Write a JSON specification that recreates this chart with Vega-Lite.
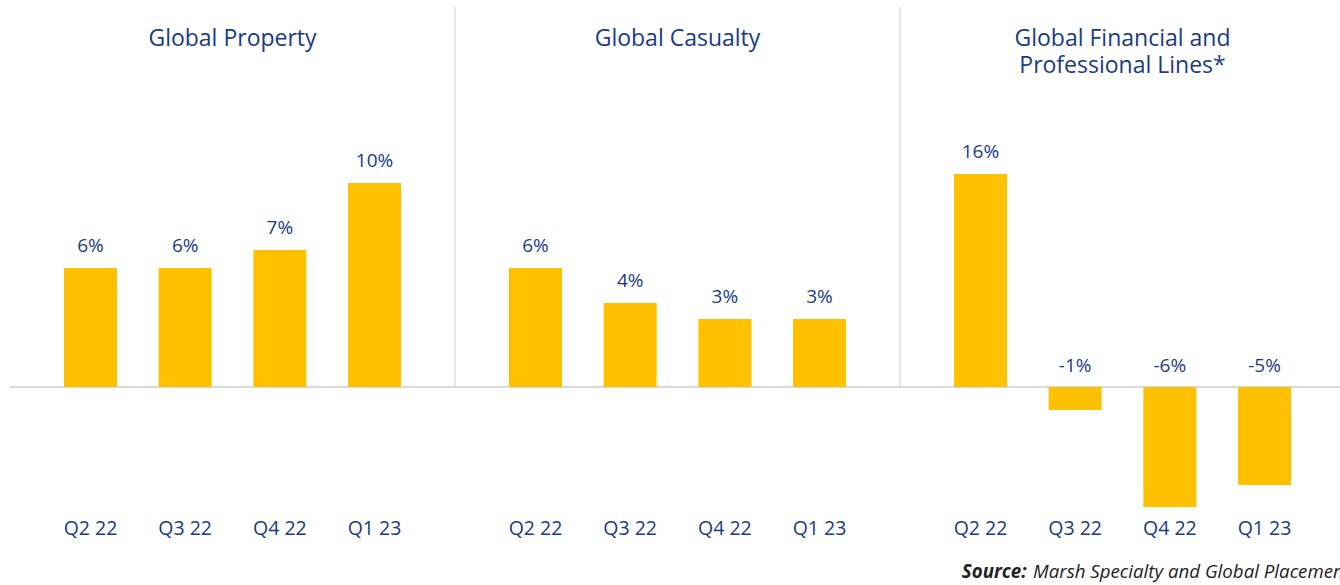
{
  "$schema": "https://vega.github.io/schema/vega-lite/v6.json",
  "autosize": {"type": "none"},
  "width": 1335,
  "height": 540,
  "padding": {"left": 10, "top": 7, "right": -5, "bottom": 38},
  "background": "white",
  "config": {"view": {"stroke": null}, "font": "Open Sans"},
  "data": {"values": [
    {"panel": "Global Property", "quarter": "Q2 22", "value": 5.95, "label": "6%"},
    {"panel": "Global Property", "quarter": "Q3 22", "value": 5.95, "label": "6%"},
    {"panel": "Global Property", "quarter": "Q4 22", "value": 6.85, "label": "7%"},
    {"panel": "Global Property", "quarter": "Q1 23", "value": 10.2, "label": "10%"},
    {"panel": "Global Casualty", "quarter": "Q2 22", "value": 5.95, "label": "6%"},
    {"panel": "Global Casualty", "quarter": "Q3 22", "value": 4.2, "label": "4%"},
    {"panel": "Global Casualty", "quarter": "Q4 22", "value": 3.4, "label": "3%"},
    {"panel": "Global Casualty", "quarter": "Q1 23", "value": 3.4, "label": "3%"},
    {"panel": "Global Financial and\nProfessional Lines*", "quarter": "Q2 22", "value": 10.65, "label": "16%"},
    {"panel": "Global Financial and\nProfessional Lines*", "quarter": "Q3 22", "value": -1.15, "label": "-1%"},
    {"panel": "Global Financial and\nProfessional Lines*", "quarter": "Q4 22", "value": -6.0, "label": "-6%"},
    {"panel": "Global Financial and\nProfessional Lines*", "quarter": "Q1 23", "value": -4.9, "label": "-5%"}
  ]},
  "encoding": {
    "x": {"field": "panel", "type": "nominal", "axis": null,
          "scale": {"domain": ["Global Property", "Global Casualty", "Global Financial and\nProfessional Lines*"], "paddingInner": 0, "paddingOuter": 0}},
    "xOffset": {"field": "quarter", "type": "nominal",
                "scale": {"domain": ["Q2 22", "Q3 22", "Q4 22", "Q1 23"], "paddingInner": 0.44, "paddingOuter": 0.57}}
  },
  "layer": [
    {
      "mark": {"type": "rule", "color": "#d9d9d9", "strokeWidth": 1.2},
      "encoding": {
        "x": null, "xOffset": null,
        "y": {"datum": 0, "type": "quantitative", "scale": {"domain": [-8, 19], "nice": false, "zero": false}, "axis": null}
      }
    },
    {
      "transform": [
        {"filter": "datum.panel != 'Global Property'"},
        {"aggregate": [{"op": "count", "as": "n"}], "groupby": ["panel"]}
      ],
      "mark": {"type": "rule", "color": "#d9d9d9", "strokeWidth": 1.2},
      "encoding": {
        "x": {"field": "panel", "type": "nominal", "bandPosition": 0, "axis": null},
        "xOffset": null,
        "y": {"datum": 19, "type": "quantitative"},
        "y2": {"datum": 0}
      }
    },
    {
      "mark": {"type": "bar", "color": "#FFC000"},
      "encoding": {
        "y": {"field": "value", "type": "quantitative"},
        "y2": {"datum": 0}
      }
    },
    {
      "transform": [{"filter": "datum.value >= 0"}],
      "mark": {"type": "text", "color": "#1b3a85", "fontSize": 19, "baseline": "middle", "dy": -22},
      "encoding": {
        "y": {"field": "value", "type": "quantitative"},
        "text": {"field": "label"}
      }
    },
    {
      "transform": [{"filter": "datum.value < 0"}],
      "mark": {"type": "text", "color": "#1b3a85", "fontSize": 19, "baseline": "middle", "dy": -21},
      "encoding": {
        "y": {"datum": 0, "type": "quantitative"},
        "text": {"field": "label"}
      }
    },
    {
      "mark": {"type": "text", "color": "#1b3a85", "fontSize": 19.5, "baseline": "middle"},
      "encoding": {
        "y": {"datum": -7.1, "type": "quantitative"},
        "text": {"field": "quarter"}
      }
    },
    {
      "transform": [{"aggregate": [{"op": "count", "as": "n"}], "groupby": ["panel"]}],
      "mark": {"type": "text", "color": "#1b3a85", "fontSize": 23, "baseline": "middle", "lineBreak": "\n", "lineHeight": 27},
      "encoding": {
        "x": {"field": "panel", "type": "nominal", "axis": null},
        "xOffset": null,
        "y": {"datum": 17.4, "type": "quantitative"},
        "text": {"field": "panel"}
      }
    },
    {
      "data": {"values": [{"t": "Source:"}]},
      "mark": {"type": "text", "color": "#222222", "fontSize": 18.7, "fontWeight": "bold", "fontStyle": "italic", "align": "left", "baseline": "middle"},
      "encoding": {
        "x": {"datum": "Global Financial and\nProfessional Lines*", "type": "nominal", "bandPosition": 0.139},
        "xOffset": null,
        "y": {"datum": -9.25, "type": "quantitative"},
        "text": {"field": "t"}
      }
    },
    {
      "data": {"values": [{"t": "Marsh Specialty and Global Placement"}]},
      "mark": {"type": "text", "color": "#222222", "fontSize": 18.7, "fontStyle": "italic", "align": "left", "baseline": "middle"},
      "encoding": {
        "x": {"datum": "Global Financial and\nProfessional Lines*", "type": "nominal", "bandPosition": 0.299},
        "xOffset": null,
        "y": {"datum": -9.25, "type": "quantitative"},
        "text": {"field": "t"}
      }
    }
  ]
}
